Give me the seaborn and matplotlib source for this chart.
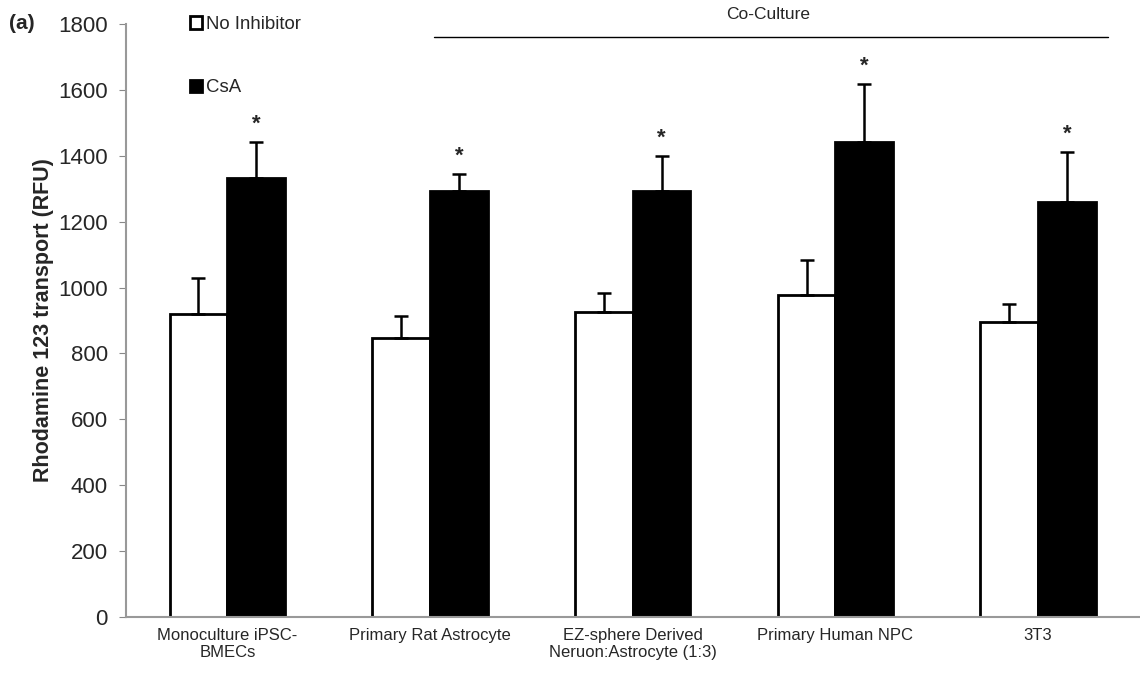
import matplotlib
matplotlib.use("Agg")
import matplotlib.pyplot as plt
import seaborn as sns
import numpy as np
import pandas as pd

groups = ["Monoculture iPSC-\nBMECs", "Primary Rat Astrocyte",
          "EZ-sphere Derived\nNeruon:Astrocyte (1:3)", "Primary Human NPC", "3T3"]
treatments = ["No Inhibitor", "CsA"]
no_inhibitor = [920, 847, 925, 978, 895]
no_inhibitor_err = [110, 67, 58, 107, 55]
csa = [1332, 1292, 1293, 1443, 1260]
csa_err = [110, 53, 107, 175, 152]

df = pd.DataFrame({
    "group": groups * 2,
    "treatment": [treatments[0]] * 5 + [treatments[1]] * 5,
    "value": no_inhibitor + csa,
})

sns.set_style("white")
plt.rcParams["font.family"] = ["Liberation Sans", "DejaVu Sans"]

fig = plt.figure(figsize=(11.4, 6.74), dpi=100)
ax = fig.add_axes([0.1105, 0.0846, 0.889, 0.8798])

sns.barplot(data=df, x="group", y="value", hue="treatment", order=groups,
            hue_order=treatments, palette=["white", "black"], edgecolor="black",
            linewidth=2, width=0.57, errorbar=None, ax=ax)

# upper-only error bars, placed on the drawn bars
bars = ax.patches[:10]
for bar, v, e in zip(bars, no_inhibitor + csa, no_inhibitor_err + csa_err):
    xc = bar.get_x() + bar.get_width() / 2
    ax.errorbar(xc, v, yerr=[[0], [e]], fmt="none", ecolor="black",
                elinewidth=1.8, capsize=5, capthick=1.8)

# significance stars above CsA bars
for bar, v, e in zip(bars[5:], csa, csa_err):
    xc = bar.get_x() + bar.get_width() / 2
    ax.text(xc, v + e + 22, "*", ha="center", va="bottom", fontsize=16, fontweight="bold")

ax.set_ylim(0, 1800)
ax.set_yticks(np.arange(0, 1801, 200))
ax.set_xlim(-0.5, 4.5)
ax.set_xlabel("")
ax.set_ylabel("Rhodamine 123 transport (RFU)", fontsize=15.5, fontweight="bold", labelpad=3)
ax.tick_params(axis="y", labelsize=16, length=5, color="#888888", left=True, pad=8)
ax.tick_params(axis="x", labelsize=12, length=0, pad=8)

for s in ["top", "right"]:
    ax.spines[s].set_visible(False)
for s in ["left", "bottom"]:
    ax.spines[s].set_color("#999999")
    ax.spines[s].set_linewidth(1.5)

# Co-Culture bracket
ax.plot([1.022, 4.347], [1760, 1760], color="black", lw=1, clip_on=False)
ax.text(2.67, 1805, "Co-Culture", ha="center", va="bottom", fontsize=12.5)

handles, labels = ax.get_legend_handles_labels()
ax.legend(handles, labels, loc="upper left", bbox_to_anchor=(0.047, 1.042),
          frameon=False, fontsize=13.4, handlelength=0.65, handleheight=0.65,
          handletextpad=0.2, labelspacing=2.5)

fig.text(0.008, 0.957, "(a)", fontsize=15, fontweight="bold")

fig.savefig("out.png", dpi=100)
